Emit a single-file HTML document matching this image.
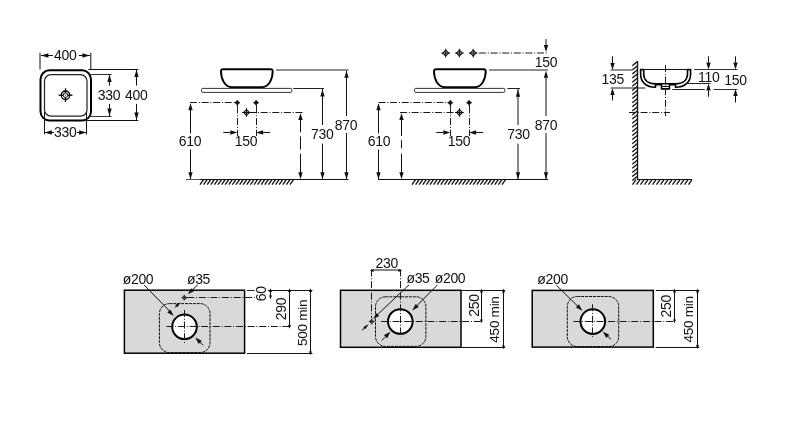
<!DOCTYPE html>
<html><head><meta charset="utf-8"><style>
html,body{margin:0;padding:0;background:#fff;}
svg{display:block;}
text{font-family:"Liberation Sans",sans-serif;letter-spacing:-0.3px;}
svg{will-change:transform;}
</style></head><body>
<svg width="800" height="423" viewBox="0 0 800 423">
<rect width="800" height="423" fill="#fff"/>
<rect x="40.5" y="70.3" width="50.5" height="50.2" rx="9" fill="none" stroke="#000" stroke-width="2"/>
<rect x="44.5" y="74.6" width="42.5" height="41.6" rx="6.5" fill="none" stroke="#222" stroke-width="1.2"/>
<circle cx="65.5" cy="95.2" r="4.2" fill="none" stroke="#000" stroke-width="1.3"/>
<circle cx="65.5" cy="95.2" r="2.3" fill="none" stroke="#000" stroke-width="0.9"/>
<line x1="65.5" y1="88.3" x2="65.5" y2="93" stroke="#000" stroke-width="1.3" stroke-linecap="butt"/>
<line x1="65.5" y1="97.4" x2="65.5" y2="102.1" stroke="#000" stroke-width="1.3" stroke-linecap="butt"/>
<line x1="58.6" y1="95.2" x2="63.3" y2="95.2" stroke="#000" stroke-width="1.3" stroke-linecap="butt"/>
<line x1="67.7" y1="95.2" x2="72.4" y2="95.2" stroke="#000" stroke-width="1.3" stroke-linecap="butt"/>
<line x1="64" y1="93.7" x2="67" y2="96.7" stroke="#666" stroke-width="0.6" stroke-linecap="butt"/>
<line x1="67" y1="93.7" x2="64" y2="96.7" stroke="#666" stroke-width="0.6" stroke-linecap="butt"/>
<line x1="40.0" y1="52.7" x2="40.0" y2="69.5" stroke="#111" stroke-width="1" stroke-linecap="butt"/>
<line x1="90.8" y1="52.7" x2="90.8" y2="69.5" stroke="#111" stroke-width="1" stroke-linecap="butt"/>
<line x1="41" y1="55.5" x2="53" y2="55.5" stroke="#111" stroke-width="1.0" stroke-linecap="butt"/>
<line x1="78.8" y1="55.5" x2="90" y2="55.5" stroke="#111" stroke-width="1.0" stroke-linecap="butt"/>
<polygon points="41.10,55.50 48.40,53.30 48.40,57.70" fill="#111"/>
<polygon points="89.70,55.50 82.40,53.30 82.40,57.70" fill="#111"/>
<text x="65.3" y="55.3" font-size="14" text-anchor="middle" dominant-baseline="central" fill="#111">400</text>
<line x1="88.3" y1="69.5" x2="138.3" y2="69.5" stroke="#111" stroke-width="1.0" stroke-linecap="butt"/>
<line x1="86.7" y1="120.5" x2="138.3" y2="120.5" stroke="#111" stroke-width="1.0" stroke-linecap="butt"/>
<line x1="88" y1="74.5" x2="111.5" y2="74.5" stroke="#333" stroke-width="1" stroke-linecap="butt"/>
<line x1="88" y1="116.5" x2="111.5" y2="116.5" stroke="#333" stroke-width="1" stroke-linecap="butt"/>
<line x1="109.5" y1="75" x2="109.5" y2="85.6" stroke="#111" stroke-width="1.0" stroke-linecap="butt"/>
<line x1="109.5" y1="103.9" x2="109.5" y2="116" stroke="#111" stroke-width="1.0" stroke-linecap="butt"/>
<polygon points="109.50,74.60 107.30,82.10 111.70,82.10" fill="#111"/>
<polygon points="109.50,116.00 107.30,108.50 111.70,108.50" fill="#111"/>
<text x="109" y="95" font-size="14" text-anchor="middle" dominant-baseline="central" fill="#111">330</text>
<line x1="136.5" y1="70" x2="136.5" y2="85.6" stroke="#111" stroke-width="1.0" stroke-linecap="butt"/>
<line x1="136.5" y1="103.9" x2="136.5" y2="119.9" stroke="#111" stroke-width="1.0" stroke-linecap="butt"/>
<polygon points="136.50,69.60 134.30,77.10 138.70,77.10" fill="#111"/>
<polygon points="136.50,120.00 134.30,112.50 138.70,112.50" fill="#111"/>
<text x="136.2" y="95" font-size="14" text-anchor="middle" dominant-baseline="central" fill="#111">400</text>
<line x1="44.5" y1="112" x2="44.5" y2="134.4" stroke="#111" stroke-width="1.0" stroke-linecap="butt"/>
<line x1="86.5" y1="112" x2="86.5" y2="134.4" stroke="#111" stroke-width="1.0" stroke-linecap="butt"/>
<line x1="44.5" y1="132.5" x2="54" y2="132.5" stroke="#111" stroke-width="1.0" stroke-linecap="butt"/>
<line x1="77" y1="132.5" x2="86.4" y2="132.5" stroke="#111" stroke-width="1.0" stroke-linecap="butt"/>
<polygon points="44.50,132.50 51.80,130.30 51.80,134.70" fill="#111"/>
<polygon points="86.40,132.50 79.10,130.30 79.10,134.70" fill="#111"/>
<text x="65.2" y="132.3" font-size="14" text-anchor="middle" dominant-baseline="central" fill="#111">330</text>
<path d="M223,69.3 L270.7,69.3 Q272.7,69.3 272.7,71.3 C272.7,79.3 268.7,87.2 261.7,87.2 L232,87.2 C225,87.2 221,79.3 221,71.3 Q221,69.3 223,69.3Z" stroke="#000" stroke-width="1.9" fill="#fff" />
<rect x="201.6" y="88.4" width="90.2" height="4" rx="1" fill="#fff" stroke="#333" stroke-width="1"/>
<path d="M237.3,100.0 L238.35000000000002,101.65 L240.0,102.7 L238.35000000000002,103.75 L237.3,105.4 L236.25,103.75 L234.60000000000002,102.7 L236.25,101.65 Z" fill="#111" stroke="#111" stroke-width="0.6" stroke-linejoin="round"/>
<path d="M237.3,100.9 L239.10000000000002,102.7 L237.3,104.5 L235.5,102.7Z" fill="#111"/>
<path d="M256.1,100.0 L257.15000000000003,101.65 L258.8,102.7 L257.15000000000003,103.75 L256.1,105.4 L255.05,103.75 L253.40000000000003,102.7 L255.05,101.65 Z" fill="#111" stroke="#111" stroke-width="0.6" stroke-linejoin="round"/>
<path d="M256.1,100.9 L257.90000000000003,102.7 L256.1,104.5 L254.3,102.7Z" fill="#111"/>
<path d="M246.5,109.6 L249.4,112.5 L246.5,115.4 L243.6,112.5Z" fill="none" stroke="#111" stroke-width="1.1"/>
<line x1="246.5" y1="108.2" x2="246.5" y2="116.8" stroke="#111" stroke-width="1.0" stroke-linecap="butt"/>
<line x1="242.2" y1="112.5" x2="250.8" y2="112.5" stroke="#111" stroke-width="1.0" stroke-linecap="butt"/>
<line x1="237.5" y1="105" x2="237.5" y2="113.5" stroke="#222" stroke-width="1" stroke-linecap="butt"/>
<line x1="237.5" y1="113.5" x2="237.5" y2="136" stroke="#1a1a1a" stroke-width="1" stroke-linecap="butt" stroke-dasharray="7 1.8 1 1.8" stroke-dashoffset="7"/>
<line x1="256.5" y1="105" x2="256.5" y2="113.5" stroke="#222" stroke-width="1" stroke-linecap="butt"/>
<line x1="256.5" y1="113.5" x2="256.5" y2="136" stroke="#1a1a1a" stroke-width="1" stroke-linecap="butt" stroke-dasharray="7 1.8 1 1.8" stroke-dashoffset="7"/>
<line x1="223.3" y1="132.5" x2="230.3" y2="132.5" stroke="#111" stroke-width="1.0" stroke-linecap="butt"/>
<polygon points="237.30,132.50 230.30,130.30 230.30,134.70" fill="#111"/>
<line x1="263.1" y1="132.5" x2="270.1" y2="132.5" stroke="#111" stroke-width="1.0" stroke-linecap="butt"/>
<polygon points="256.10,132.50 263.10,130.30 263.10,134.70" fill="#111"/>
<text x="246.0" y="141.3" font-size="14" text-anchor="middle" dominant-baseline="central" fill="#111">150</text>
<line x1="190" y1="102.5" x2="235" y2="102.5" stroke="#1a1a1a" stroke-width="1.0" stroke-linecap="butt" stroke-dasharray="7 1.8 1 1.8" stroke-dashoffset="0"/>
<line x1="190.5" y1="104" x2="190.5" y2="133.5" stroke="#111" stroke-width="1.0" stroke-linecap="butt"/>
<line x1="190.5" y1="149.5" x2="190.5" y2="179" stroke="#111" stroke-width="1.0" stroke-linecap="butt"/>
<polygon points="190.50,103.20 188.30,110.20 192.70,110.20" fill="#111"/>
<polygon points="190.50,179.30 188.30,172.30 192.70,172.30" fill="#111"/>
<text x="190" y="141" font-size="14" text-anchor="middle" dominant-baseline="central" fill="#111">610</text>
<line x1="249" y1="112.5" x2="256.1" y2="112.5" stroke="#111" stroke-width="1.1" stroke-linecap="butt"/>
<line x1="256.1" y1="112.5" x2="303" y2="112.5" stroke="#1a1a1a" stroke-width="1.0" stroke-linecap="butt" stroke-dasharray="7 1.8 1 1.8" stroke-dashoffset="7"/>
<line x1="300.5" y1="118" x2="300.5" y2="132.3" stroke="#111" stroke-width="1.0" stroke-linecap="butt"/>
<line x1="300.5" y1="136.4" x2="300.5" y2="149.6" stroke="#111" stroke-width="1.0" stroke-linecap="butt"/>
<line x1="300.5" y1="153.7" x2="300.5" y2="175" stroke="#111" stroke-width="1.0" stroke-linecap="butt"/>
<polygon points="300.50,113.00 298.30,120.00 302.70,120.00" fill="#111"/>
<polygon points="300.50,179.30 298.30,172.30 302.70,172.30" fill="#111"/>
<line x1="186" y1="179.5" x2="200" y2="179.5" stroke="#555" stroke-width="1" stroke-linecap="butt"/>
<line x1="200" y1="179.5" x2="294" y2="179.5" stroke="#111" stroke-width="1.2" stroke-linecap="butt"/>
<line x1="200" y1="184.7" x2="203.5" y2="179.7" stroke="#111" stroke-width="1.35" stroke-linecap="butt"/>
<line x1="203.6" y1="184.7" x2="207.1" y2="179.7" stroke="#111" stroke-width="1.35" stroke-linecap="butt"/>
<line x1="207.2" y1="184.7" x2="210.7" y2="179.7" stroke="#111" stroke-width="1.35" stroke-linecap="butt"/>
<line x1="210.79999999999998" y1="184.7" x2="214.29999999999998" y2="179.7" stroke="#111" stroke-width="1.35" stroke-linecap="butt"/>
<line x1="214.39999999999998" y1="184.7" x2="217.89999999999998" y2="179.7" stroke="#111" stroke-width="1.35" stroke-linecap="butt"/>
<line x1="217.99999999999997" y1="184.7" x2="221.49999999999997" y2="179.7" stroke="#111" stroke-width="1.35" stroke-linecap="butt"/>
<line x1="221.59999999999997" y1="184.7" x2="225.09999999999997" y2="179.7" stroke="#111" stroke-width="1.35" stroke-linecap="butt"/>
<line x1="225.19999999999996" y1="184.7" x2="228.69999999999996" y2="179.7" stroke="#111" stroke-width="1.35" stroke-linecap="butt"/>
<line x1="228.79999999999995" y1="184.7" x2="232.29999999999995" y2="179.7" stroke="#111" stroke-width="1.35" stroke-linecap="butt"/>
<line x1="232.39999999999995" y1="184.7" x2="235.89999999999995" y2="179.7" stroke="#111" stroke-width="1.35" stroke-linecap="butt"/>
<line x1="235.99999999999994" y1="184.7" x2="239.49999999999994" y2="179.7" stroke="#111" stroke-width="1.35" stroke-linecap="butt"/>
<line x1="239.59999999999994" y1="184.7" x2="243.09999999999994" y2="179.7" stroke="#111" stroke-width="1.35" stroke-linecap="butt"/>
<line x1="243.19999999999993" y1="184.7" x2="246.69999999999993" y2="179.7" stroke="#111" stroke-width="1.35" stroke-linecap="butt"/>
<line x1="246.79999999999993" y1="184.7" x2="250.29999999999993" y2="179.7" stroke="#111" stroke-width="1.35" stroke-linecap="butt"/>
<line x1="250.39999999999992" y1="184.7" x2="253.89999999999992" y2="179.7" stroke="#111" stroke-width="1.35" stroke-linecap="butt"/>
<line x1="253.99999999999991" y1="184.7" x2="257.4999999999999" y2="179.7" stroke="#111" stroke-width="1.35" stroke-linecap="butt"/>
<line x1="257.5999999999999" y1="184.7" x2="261.0999999999999" y2="179.7" stroke="#111" stroke-width="1.35" stroke-linecap="butt"/>
<line x1="261.19999999999993" y1="184.7" x2="264.69999999999993" y2="179.7" stroke="#111" stroke-width="1.35" stroke-linecap="butt"/>
<line x1="264.79999999999995" y1="184.7" x2="268.29999999999995" y2="179.7" stroke="#111" stroke-width="1.35" stroke-linecap="butt"/>
<line x1="268.4" y1="184.7" x2="271.9" y2="179.7" stroke="#111" stroke-width="1.35" stroke-linecap="butt"/>
<line x1="272.0" y1="184.7" x2="275.5" y2="179.7" stroke="#111" stroke-width="1.35" stroke-linecap="butt"/>
<line x1="275.6" y1="184.7" x2="279.1" y2="179.7" stroke="#111" stroke-width="1.35" stroke-linecap="butt"/>
<line x1="279.20000000000005" y1="184.7" x2="282.70000000000005" y2="179.7" stroke="#111" stroke-width="1.35" stroke-linecap="butt"/>
<line x1="282.80000000000007" y1="184.7" x2="286.30000000000007" y2="179.7" stroke="#111" stroke-width="1.35" stroke-linecap="butt"/>
<line x1="286.4000000000001" y1="184.7" x2="289.9000000000001" y2="179.7" stroke="#111" stroke-width="1.35" stroke-linecap="butt"/>
<line x1="290.0000000000001" y1="184.7" x2="293.5000000000001" y2="179.7" stroke="#111" stroke-width="1.35" stroke-linecap="butt"/>
<line x1="290" y1="179.5" x2="348.5" y2="179.5" stroke="#111" stroke-width="1.2" stroke-linecap="butt"/>
<line x1="293.2" y1="88.5" x2="324" y2="88.5" stroke="#222" stroke-width="1" stroke-linecap="butt"/>
<line x1="322.5" y1="89" x2="322.5" y2="125" stroke="#111" stroke-width="1.0" stroke-linecap="butt"/>
<line x1="322.5" y1="143.6" x2="322.5" y2="179" stroke="#111" stroke-width="1.0" stroke-linecap="butt"/>
<polygon points="322.50,89.60 320.30,96.60 324.70,96.60" fill="#111"/>
<polygon points="322.50,179.30 320.30,172.30 324.70,172.30" fill="#111"/>
<text x="322.2" y="134" font-size="14" text-anchor="middle" dominant-baseline="central" fill="#111">730</text>
<line x1="276" y1="70" x2="348.5" y2="70" stroke="#222" stroke-width="1" stroke-linecap="butt"/>
<line x1="346.5" y1="71" x2="346.5" y2="116" stroke="#111" stroke-width="1.0" stroke-linecap="butt"/>
<line x1="346.5" y1="133" x2="346.5" y2="179" stroke="#111" stroke-width="1.0" stroke-linecap="butt"/>
<polygon points="346.50,70.80 344.30,77.80 348.70,77.80" fill="#111"/>
<polygon points="346.50,179.30 344.30,172.30 348.70,172.30" fill="#111"/>
<text x="346" y="124.5" font-size="14" text-anchor="middle" dominant-baseline="central" fill="#111">870</text>
<path d="M436,69.3 L483.7,69.3 Q485.7,69.3 485.7,71.3 C485.7,79.3 481.7,87.2 474.7,87.2 L445,87.2 C438,87.2 434,79.3 434,71.3 Q434,69.3 436,69.3Z" stroke="#000" stroke-width="1.9" fill="#fff" />
<rect x="414.6" y="88.4" width="90.2" height="4" rx="1" fill="#fff" stroke="#333" stroke-width="1"/>
<path d="M450.3,100.0 L451.35,101.65 L453.0,102.7 L451.35,103.75 L450.3,105.4 L449.25,103.75 L447.6,102.7 L449.25,101.65 Z" fill="#111" stroke="#111" stroke-width="0.6" stroke-linejoin="round"/>
<path d="M450.3,100.9 L452.1,102.7 L450.3,104.5 L448.5,102.7Z" fill="#111"/>
<path d="M469.1,100.0 L470.15000000000003,101.65 L471.8,102.7 L470.15000000000003,103.75 L469.1,105.4 L468.05,103.75 L466.40000000000003,102.7 L468.05,101.65 Z" fill="#111" stroke="#111" stroke-width="0.6" stroke-linejoin="round"/>
<path d="M469.1,100.9 L470.90000000000003,102.7 L469.1,104.5 L467.3,102.7Z" fill="#111"/>
<path d="M459.5,109.6 L462.4,112.5 L459.5,115.4 L456.6,112.5Z" fill="none" stroke="#111" stroke-width="1.1"/>
<line x1="459.5" y1="108.2" x2="459.5" y2="116.8" stroke="#111" stroke-width="1.0" stroke-linecap="butt"/>
<line x1="455.2" y1="112.5" x2="463.8" y2="112.5" stroke="#111" stroke-width="1.0" stroke-linecap="butt"/>
<line x1="450.5" y1="105" x2="450.5" y2="113.5" stroke="#222" stroke-width="1" stroke-linecap="butt"/>
<line x1="450.5" y1="113.5" x2="450.5" y2="136" stroke="#1a1a1a" stroke-width="1" stroke-linecap="butt" stroke-dasharray="7 1.8 1 1.8" stroke-dashoffset="7"/>
<line x1="469.5" y1="105" x2="469.5" y2="113.5" stroke="#222" stroke-width="1" stroke-linecap="butt"/>
<line x1="469.5" y1="113.5" x2="469.5" y2="136" stroke="#1a1a1a" stroke-width="1" stroke-linecap="butt" stroke-dasharray="7 1.8 1 1.8" stroke-dashoffset="7"/>
<line x1="436.3" y1="132.5" x2="443.3" y2="132.5" stroke="#111" stroke-width="1.0" stroke-linecap="butt"/>
<polygon points="450.30,132.50 443.30,130.30 443.30,134.70" fill="#111"/>
<line x1="476.1" y1="132.5" x2="483.1" y2="132.5" stroke="#111" stroke-width="1.0" stroke-linecap="butt"/>
<polygon points="469.10,132.50 476.10,130.30 476.10,134.70" fill="#111"/>
<text x="459.0" y="141.3" font-size="14" text-anchor="middle" dominant-baseline="central" fill="#111">150</text>
<line x1="378.5" y1="102.5" x2="448" y2="102.5" stroke="#1a1a1a" stroke-width="1.0" stroke-linecap="butt" stroke-dasharray="7 1.8 1 1.8" stroke-dashoffset="0"/>
<line x1="378.5" y1="104" x2="378.5" y2="133.5" stroke="#111" stroke-width="1.0" stroke-linecap="butt"/>
<line x1="378.5" y1="149.5" x2="378.5" y2="179" stroke="#111" stroke-width="1.0" stroke-linecap="butt"/>
<polygon points="378.50,103.20 376.30,110.20 380.70,110.20" fill="#111"/>
<polygon points="378.50,179.30 376.30,172.30 380.70,172.30" fill="#111"/>
<text x="379" y="141" font-size="14" text-anchor="middle" dominant-baseline="central" fill="#111">610</text>
<line x1="400.1" y1="112.5" x2="456" y2="112.5" stroke="#1a1a1a" stroke-width="1.0" stroke-linecap="butt" stroke-dasharray="7 1.8 1 1.8" stroke-dashoffset="0"/>
<line x1="401.5" y1="118" x2="401.5" y2="136" stroke="#111" stroke-width="1.0" stroke-linecap="butt"/>
<line x1="401.5" y1="140.2" x2="401.5" y2="148.4" stroke="#111" stroke-width="1.0" stroke-linecap="butt"/>
<line x1="401.5" y1="153.6" x2="401.5" y2="175" stroke="#111" stroke-width="1.0" stroke-linecap="butt"/>
<polygon points="401.50,113.00 399.30,120.00 403.70,120.00" fill="#111"/>
<polygon points="401.50,179.30 399.30,172.30 403.70,172.30" fill="#111"/>
<line x1="378" y1="179.5" x2="412" y2="179.5" stroke="#111" stroke-width="1.2" stroke-linecap="butt"/>
<line x1="412" y1="179.5" x2="503" y2="179.5" stroke="#111" stroke-width="1.2" stroke-linecap="butt"/>
<line x1="412" y1="184.7" x2="415.5" y2="179.7" stroke="#111" stroke-width="1.35" stroke-linecap="butt"/>
<line x1="415.6" y1="184.7" x2="419.1" y2="179.7" stroke="#111" stroke-width="1.35" stroke-linecap="butt"/>
<line x1="419.20000000000005" y1="184.7" x2="422.70000000000005" y2="179.7" stroke="#111" stroke-width="1.35" stroke-linecap="butt"/>
<line x1="422.80000000000007" y1="184.7" x2="426.30000000000007" y2="179.7" stroke="#111" stroke-width="1.35" stroke-linecap="butt"/>
<line x1="426.4000000000001" y1="184.7" x2="429.9000000000001" y2="179.7" stroke="#111" stroke-width="1.35" stroke-linecap="butt"/>
<line x1="430.0000000000001" y1="184.7" x2="433.5000000000001" y2="179.7" stroke="#111" stroke-width="1.35" stroke-linecap="butt"/>
<line x1="433.60000000000014" y1="184.7" x2="437.10000000000014" y2="179.7" stroke="#111" stroke-width="1.35" stroke-linecap="butt"/>
<line x1="437.20000000000016" y1="184.7" x2="440.70000000000016" y2="179.7" stroke="#111" stroke-width="1.35" stroke-linecap="butt"/>
<line x1="440.8000000000002" y1="184.7" x2="444.3000000000002" y2="179.7" stroke="#111" stroke-width="1.35" stroke-linecap="butt"/>
<line x1="444.4000000000002" y1="184.7" x2="447.9000000000002" y2="179.7" stroke="#111" stroke-width="1.35" stroke-linecap="butt"/>
<line x1="448.0000000000002" y1="184.7" x2="451.5000000000002" y2="179.7" stroke="#111" stroke-width="1.35" stroke-linecap="butt"/>
<line x1="451.60000000000025" y1="184.7" x2="455.10000000000025" y2="179.7" stroke="#111" stroke-width="1.35" stroke-linecap="butt"/>
<line x1="455.2000000000003" y1="184.7" x2="458.7000000000003" y2="179.7" stroke="#111" stroke-width="1.35" stroke-linecap="butt"/>
<line x1="458.8000000000003" y1="184.7" x2="462.3000000000003" y2="179.7" stroke="#111" stroke-width="1.35" stroke-linecap="butt"/>
<line x1="462.4000000000003" y1="184.7" x2="465.9000000000003" y2="179.7" stroke="#111" stroke-width="1.35" stroke-linecap="butt"/>
<line x1="466.00000000000034" y1="184.7" x2="469.50000000000034" y2="179.7" stroke="#111" stroke-width="1.35" stroke-linecap="butt"/>
<line x1="469.60000000000036" y1="184.7" x2="473.10000000000036" y2="179.7" stroke="#111" stroke-width="1.35" stroke-linecap="butt"/>
<line x1="473.2000000000004" y1="184.7" x2="476.7000000000004" y2="179.7" stroke="#111" stroke-width="1.35" stroke-linecap="butt"/>
<line x1="476.8000000000004" y1="184.7" x2="480.3000000000004" y2="179.7" stroke="#111" stroke-width="1.35" stroke-linecap="butt"/>
<line x1="480.40000000000043" y1="184.7" x2="483.90000000000043" y2="179.7" stroke="#111" stroke-width="1.35" stroke-linecap="butt"/>
<line x1="484.00000000000045" y1="184.7" x2="487.50000000000045" y2="179.7" stroke="#111" stroke-width="1.35" stroke-linecap="butt"/>
<line x1="487.6000000000005" y1="184.7" x2="491.1000000000005" y2="179.7" stroke="#111" stroke-width="1.35" stroke-linecap="butt"/>
<line x1="491.2000000000005" y1="184.7" x2="494.7000000000005" y2="179.7" stroke="#111" stroke-width="1.35" stroke-linecap="butt"/>
<line x1="494.8000000000005" y1="184.7" x2="498.3000000000005" y2="179.7" stroke="#111" stroke-width="1.35" stroke-linecap="butt"/>
<line x1="498.40000000000055" y1="184.7" x2="501.90000000000055" y2="179.7" stroke="#111" stroke-width="1.35" stroke-linecap="butt"/>
<line x1="502.00000000000057" y1="184.7" x2="505.50000000000057" y2="179.7" stroke="#111" stroke-width="1.35" stroke-linecap="butt"/>
<line x1="503" y1="179.5" x2="548" y2="179.5" stroke="#111" stroke-width="1.2" stroke-linecap="butt"/>
<path d="M445.7,50.2 L448.59999999999997,53.1 L445.7,56.0 L442.8,53.1Z" fill="none" stroke="#111" stroke-width="1.1"/>
<line x1="445.7" y1="48.800000000000004" x2="445.7" y2="57.4" stroke="#111" stroke-width="1.0" stroke-linecap="butt"/>
<line x1="441.4" y1="53.1" x2="450.0" y2="53.1" stroke="#111" stroke-width="1.0" stroke-linecap="butt"/>
<path d="M459.4,50.2 L462.29999999999995,53.1 L459.4,56.0 L456.5,53.1Z" fill="none" stroke="#111" stroke-width="1.1"/>
<line x1="459.4" y1="48.800000000000004" x2="459.4" y2="57.4" stroke="#111" stroke-width="1.0" stroke-linecap="butt"/>
<line x1="455.09999999999997" y1="53.1" x2="463.7" y2="53.1" stroke="#111" stroke-width="1.0" stroke-linecap="butt"/>
<path d="M473.2,50.2 L476.09999999999997,53.1 L473.2,56.0 L470.3,53.1Z" fill="none" stroke="#111" stroke-width="1.1"/>
<line x1="473.2" y1="48.800000000000004" x2="473.2" y2="57.4" stroke="#111" stroke-width="1.0" stroke-linecap="butt"/>
<line x1="468.9" y1="53.1" x2="477.5" y2="53.1" stroke="#111" stroke-width="1.0" stroke-linecap="butt"/>
<line x1="479" y1="53" x2="548" y2="53" stroke="#1a1a1a" stroke-width="1.0" stroke-linecap="butt" stroke-dasharray="7 1.8 1 1.8" stroke-dashoffset="0"/>
<line x1="546" y1="39" x2="546" y2="46" stroke="#111" stroke-width="1" stroke-linecap="butt"/>
<polygon points="546.00,52.00 543.80,45.00 548.20,45.00" fill="#111"/>
<text x="546" y="62" font-size="14" text-anchor="middle" dominant-baseline="central" fill="#111">150</text>
<line x1="489" y1="70" x2="547.8" y2="70" stroke="#222" stroke-width="1" stroke-linecap="butt"/>
<line x1="546" y1="76" x2="546" y2="116" stroke="#111" stroke-width="1" stroke-linecap="butt"/>
<line x1="546" y1="133" x2="546" y2="179" stroke="#111" stroke-width="1" stroke-linecap="butt"/>
<polygon points="546.00,70.80 543.80,77.80 548.20,77.80" fill="#111"/>
<polygon points="546.00,179.30 543.80,172.30 548.20,172.30" fill="#111"/>
<text x="546" y="124.5" font-size="14" text-anchor="middle" dominant-baseline="central" fill="#111">870</text>
<line x1="507.3" y1="88.5" x2="520" y2="88.5" stroke="#222" stroke-width="1" stroke-linecap="butt"/>
<line x1="518" y1="89" x2="518" y2="125" stroke="#111" stroke-width="1" stroke-linecap="butt"/>
<line x1="518" y1="143.6" x2="518" y2="179" stroke="#111" stroke-width="1" stroke-linecap="butt"/>
<polygon points="518.00,89.80 515.80,96.80 520.20,96.80" fill="#111"/>
<polygon points="518.00,179.30 515.80,172.30 520.20,172.30" fill="#111"/>
<text x="518.5" y="134" font-size="14" text-anchor="middle" dominant-baseline="central" fill="#111">730</text>
<line x1="637.5" y1="61.3" x2="637.5" y2="179.7" stroke="#111" stroke-width="1.3" stroke-linecap="butt"/>
<line x1="632.3" y1="65.8" x2="637.8" y2="61.3" stroke="#111" stroke-width="1.35" stroke-linecap="butt"/>
<line x1="632.3" y1="69.89999999999999" x2="637.8" y2="65.39999999999999" stroke="#111" stroke-width="1.35" stroke-linecap="butt"/>
<line x1="632.3" y1="73.99999999999999" x2="637.8" y2="69.49999999999999" stroke="#111" stroke-width="1.35" stroke-linecap="butt"/>
<line x1="632.3" y1="78.09999999999998" x2="637.8" y2="73.59999999999998" stroke="#111" stroke-width="1.35" stroke-linecap="butt"/>
<line x1="632.3" y1="82.19999999999997" x2="637.8" y2="77.69999999999997" stroke="#111" stroke-width="1.35" stroke-linecap="butt"/>
<line x1="632.3" y1="86.29999999999997" x2="637.8" y2="81.79999999999997" stroke="#111" stroke-width="1.35" stroke-linecap="butt"/>
<line x1="632.3" y1="90.39999999999996" x2="637.8" y2="85.89999999999996" stroke="#111" stroke-width="1.35" stroke-linecap="butt"/>
<line x1="632.3" y1="94.49999999999996" x2="637.8" y2="89.99999999999996" stroke="#111" stroke-width="1.35" stroke-linecap="butt"/>
<line x1="632.3" y1="98.59999999999995" x2="637.8" y2="94.09999999999995" stroke="#111" stroke-width="1.35" stroke-linecap="butt"/>
<line x1="632.3" y1="102.69999999999995" x2="637.8" y2="98.19999999999995" stroke="#111" stroke-width="1.35" stroke-linecap="butt"/>
<line x1="632.3" y1="106.79999999999994" x2="637.8" y2="102.29999999999994" stroke="#111" stroke-width="1.35" stroke-linecap="butt"/>
<line x1="632.3" y1="110.89999999999993" x2="637.8" y2="106.39999999999993" stroke="#111" stroke-width="1.35" stroke-linecap="butt"/>
<line x1="632.3" y1="114.99999999999993" x2="637.8" y2="110.49999999999993" stroke="#111" stroke-width="1.35" stroke-linecap="butt"/>
<line x1="632.3" y1="119.09999999999992" x2="637.8" y2="114.59999999999992" stroke="#111" stroke-width="1.35" stroke-linecap="butt"/>
<line x1="632.3" y1="123.19999999999992" x2="637.8" y2="118.69999999999992" stroke="#111" stroke-width="1.35" stroke-linecap="butt"/>
<line x1="632.3" y1="127.29999999999991" x2="637.8" y2="122.79999999999991" stroke="#111" stroke-width="1.35" stroke-linecap="butt"/>
<line x1="632.3" y1="131.39999999999992" x2="637.8" y2="126.8999999999999" stroke="#111" stroke-width="1.35" stroke-linecap="butt"/>
<line x1="632.3" y1="135.49999999999991" x2="637.8" y2="130.99999999999991" stroke="#111" stroke-width="1.35" stroke-linecap="butt"/>
<line x1="632.3" y1="139.5999999999999" x2="637.8" y2="135.0999999999999" stroke="#111" stroke-width="1.35" stroke-linecap="butt"/>
<line x1="632.3" y1="143.6999999999999" x2="637.8" y2="139.1999999999999" stroke="#111" stroke-width="1.35" stroke-linecap="butt"/>
<line x1="632.3" y1="147.7999999999999" x2="637.8" y2="143.2999999999999" stroke="#111" stroke-width="1.35" stroke-linecap="butt"/>
<line x1="632.3" y1="151.8999999999999" x2="637.8" y2="147.3999999999999" stroke="#111" stroke-width="1.35" stroke-linecap="butt"/>
<line x1="632.3" y1="155.9999999999999" x2="637.8" y2="151.4999999999999" stroke="#111" stroke-width="1.35" stroke-linecap="butt"/>
<line x1="632.3" y1="160.09999999999988" x2="637.8" y2="155.59999999999988" stroke="#111" stroke-width="1.35" stroke-linecap="butt"/>
<line x1="632.3" y1="164.19999999999987" x2="637.8" y2="159.69999999999987" stroke="#111" stroke-width="1.35" stroke-linecap="butt"/>
<line x1="632.3" y1="168.29999999999987" x2="637.8" y2="163.79999999999987" stroke="#111" stroke-width="1.35" stroke-linecap="butt"/>
<line x1="632.3" y1="172.39999999999986" x2="637.8" y2="167.89999999999986" stroke="#111" stroke-width="1.35" stroke-linecap="butt"/>
<line x1="632.3" y1="176.49999999999986" x2="637.8" y2="171.99999999999986" stroke="#111" stroke-width="1.35" stroke-linecap="butt"/>
<line x1="632.3" y1="180.59999999999985" x2="637.8" y2="176.09999999999985" stroke="#111" stroke-width="1.35" stroke-linecap="butt"/>
<line x1="637.2" y1="179.5" x2="692" y2="179.5" stroke="#111" stroke-width="1.2" stroke-linecap="butt"/>
<line x1="632.5" y1="184.7" x2="636.0" y2="179.7" stroke="#111" stroke-width="1.35" stroke-linecap="butt"/>
<line x1="636.5" y1="184.7" x2="640.0" y2="179.7" stroke="#111" stroke-width="1.35" stroke-linecap="butt"/>
<line x1="640.5" y1="184.7" x2="644.0" y2="179.7" stroke="#111" stroke-width="1.35" stroke-linecap="butt"/>
<line x1="644.5" y1="184.7" x2="648.0" y2="179.7" stroke="#111" stroke-width="1.35" stroke-linecap="butt"/>
<line x1="648.5" y1="184.7" x2="652.0" y2="179.7" stroke="#111" stroke-width="1.35" stroke-linecap="butt"/>
<line x1="652.5" y1="184.7" x2="656.0" y2="179.7" stroke="#111" stroke-width="1.35" stroke-linecap="butt"/>
<line x1="656.5" y1="184.7" x2="660.0" y2="179.7" stroke="#111" stroke-width="1.35" stroke-linecap="butt"/>
<line x1="660.5" y1="184.7" x2="664.0" y2="179.7" stroke="#111" stroke-width="1.35" stroke-linecap="butt"/>
<line x1="664.5" y1="184.7" x2="668.0" y2="179.7" stroke="#111" stroke-width="1.35" stroke-linecap="butt"/>
<line x1="668.5" y1="184.7" x2="672.0" y2="179.7" stroke="#111" stroke-width="1.35" stroke-linecap="butt"/>
<line x1="672.5" y1="184.7" x2="676.0" y2="179.7" stroke="#111" stroke-width="1.35" stroke-linecap="butt"/>
<line x1="676.5" y1="184.7" x2="680.0" y2="179.7" stroke="#111" stroke-width="1.35" stroke-linecap="butt"/>
<line x1="680.5" y1="184.7" x2="684.0" y2="179.7" stroke="#111" stroke-width="1.35" stroke-linecap="butt"/>
<line x1="684.5" y1="184.7" x2="688.0" y2="179.7" stroke="#111" stroke-width="1.35" stroke-linecap="butt"/>
<line x1="688.5" y1="184.7" x2="692.0" y2="179.7" stroke="#111" stroke-width="1.35" stroke-linecap="butt"/>
<path d="M640.6,69.6 L640.6,74 C640.6,82 646,87.3 655.5,87.3 L655.5,84.6 L661.5,84.6 L661.5,88.9 L669.5,88.9 L669.5,84.6 L675.5,84.6 L675.5,87.3 C685,87.3 690.6,82 690.6,74 L690.6,69.6 L687.5,69.6 L687.5,74 C687.5,80 683,83.8 675.5,83.8 L655.5,83.8 C648,83.8 643.7,80 643.7,74 L643.7,69.6 Z" stroke="#000" stroke-width="1.6" fill="none" stroke-linejoin="round"/>
<line x1="640.6" y1="69.5" x2="690.6" y2="69.5" stroke="#111" stroke-width="1.1" stroke-linecap="butt"/>
<line x1="661.5" y1="86.5" x2="669.5" y2="86.5" stroke="#111" stroke-width="1" stroke-linecap="butt"/>
<line x1="665.5" y1="65" x2="665.5" y2="116" stroke="#1a1a1a" stroke-width="1.0" stroke-linecap="butt" stroke-dasharray="7 1.8 1 1.8" stroke-dashoffset="0"/>
<line x1="629" y1="112.5" x2="670" y2="112.5" stroke="#1a1a1a" stroke-width="1.0" stroke-linecap="butt" stroke-dasharray="7 1.8 1 1.8" stroke-dashoffset="0"/>
<line x1="610.6" y1="70" x2="632.2" y2="70" stroke="#222" stroke-width="1" stroke-linecap="butt"/>
<line x1="610.6" y1="88" x2="645.5" y2="88" stroke="#222" stroke-width="1" stroke-linecap="butt"/>
<line x1="612.5" y1="56.3" x2="612.5" y2="63" stroke="#111" stroke-width="1.0" stroke-linecap="butt"/>
<polygon points="612.50,69.90 610.30,62.90 614.70,62.90" fill="#111"/>
<line x1="612.5" y1="95" x2="612.5" y2="100.5" stroke="#111" stroke-width="1.0" stroke-linecap="butt"/>
<polygon points="612.50,88.00 610.30,95.00 614.70,95.00" fill="#111"/>
<text x="612.8" y="79" font-size="14" text-anchor="middle" dominant-baseline="central" fill="#111">135</text>
<line x1="694.2" y1="69.5" x2="737.4" y2="69.5" stroke="#333" stroke-width="1" stroke-linecap="butt"/>
<line x1="685" y1="83.5" x2="710.5" y2="83.5" stroke="#222" stroke-width="1" stroke-linecap="butt"/>
<line x1="672.3" y1="89.5" x2="704.8" y2="89.5" stroke="#222" stroke-width="1" stroke-linecap="butt"/>
<line x1="713.6" y1="89.5" x2="737.4" y2="89.5" stroke="#333" stroke-width="1" stroke-linecap="butt"/>
<line x1="708.5" y1="56.4" x2="708.5" y2="62.6" stroke="#111" stroke-width="1.0" stroke-linecap="butt"/>
<polygon points="708.50,69.60 706.30,62.60 710.70,62.60" fill="#111"/>
<line x1="708.5" y1="90.6" x2="708.5" y2="96.8" stroke="#111" stroke-width="1.0" stroke-linecap="butt"/>
<polygon points="708.50,83.60 706.30,90.60 710.70,90.60" fill="#111"/>
<line x1="735.5" y1="56.4" x2="735.5" y2="62.6" stroke="#111" stroke-width="1.0" stroke-linecap="butt"/>
<polygon points="735.50,69.60 733.30,62.60 737.70,62.60" fill="#111"/>
<line x1="735.5" y1="96" x2="735.5" y2="102.5" stroke="#111" stroke-width="1.0" stroke-linecap="butt"/>
<polygon points="735.50,89.00 733.30,96.00 737.70,96.00" fill="#111"/>
<text x="708.7" y="77" font-size="14" text-anchor="middle" dominant-baseline="central" fill="#111">110</text>
<text x="735.5" y="79.8" font-size="14" text-anchor="middle" dominant-baseline="central" fill="#111">150</text>
<rect x="124.4" y="290.2" width="120.19999999999999" height="63.0" fill="#d9d9d9" stroke="#000" stroke-width="1.5"/>
<rect x="159.4" y="303.6" width="50.599999999999994" height="49.0" rx="10" fill="none" stroke="#111" stroke-width="1" stroke-dasharray="3 0.9"/>
<circle cx="184.5" cy="326.8" r="12.3" fill="#fff" stroke="#000" stroke-width="2"/>
<line x1="166.4" y1="326.5" x2="289.5" y2="326.5" stroke="#1a1a1a" stroke-width="1.0" stroke-linecap="butt" stroke-dasharray="7 1.8 1 1.8" stroke-dashoffset="0"/>
<line x1="184.5" y1="310" x2="184.5" y2="344" stroke="#1a1a1a" stroke-width="1.0" stroke-linecap="butt" stroke-dasharray="7 1.8 1 1.8" stroke-dashoffset="0"/>
<path d="M184.3,295.5 L186.5,297.7 L184.3,299.9 L182.10000000000002,297.7Z" fill="none" stroke="#111" stroke-width="1"/>
<line x1="184.3" y1="294.9" x2="184.3" y2="300.5" stroke="#111" stroke-width="0.8" stroke-linecap="butt"/>
<line x1="181.5" y1="297.7" x2="187.10000000000002" y2="297.7" stroke="#111" stroke-width="0.8" stroke-linecap="butt"/>
<line x1="187.2" y1="297.5" x2="254.75" y2="297.5" stroke="#1a1a1a" stroke-width="1.0" stroke-linecap="butt" stroke-dasharray="7 1.8 1 1.8" stroke-dashoffset="0"/>
<text x="138" y="279" font-size="14" text-anchor="middle" dominant-baseline="central" fill="#111">ø200</text>
<text x="198.5" y="279" font-size="14" text-anchor="middle" dominant-baseline="central" fill="#111">ø35</text>
<line x1="144.1" y1="285" x2="171" y2="312.5" stroke="#111" stroke-width="1" stroke-linecap="butt"/>
<polygon points="173.80,315.90 167.29,312.51 170.41,309.39" fill="#111"/>
<line x1="197.9" y1="284.8" x2="191" y2="291" stroke="#111" stroke-width="1" stroke-linecap="butt"/>
<polygon points="187.80,294.20 191.19,288.30 193.92,291.23" fill="#111"/>
<line x1="174.8" y1="307.5" x2="177" y2="305.5" stroke="#111" stroke-width="1" stroke-linecap="butt"/>
<polygon points="180.70,302.10 177.40,307.36 175.22,305.02" fill="#111"/>
<line x1="203.2" y1="345.3" x2="199" y2="341.2" stroke="#111" stroke-width="1" stroke-linecap="butt"/>
<polygon points="195.30,337.40 201.81,340.79 198.69,343.91" fill="#111"/>
<line x1="247" y1="290.5" x2="254.75" y2="290.5" stroke="#333" stroke-width="1" stroke-linecap="butt"/>
<line x1="268" y1="290.5" x2="312.4" y2="290.5" stroke="#111" stroke-width="1" stroke-linecap="butt"/>
<line x1="247" y1="353.5" x2="312.4" y2="353.5" stroke="#111" stroke-width="1" stroke-linecap="butt"/>
<line x1="270.5" y1="289.5" x2="270.5" y2="298.5" stroke="#111" stroke-width="1" stroke-linecap="butt"/>
<polygon points="270.50,288.20 269.00,292.00 272.00,292.00" fill="#111"/>
<polygon points="270.50,299.30 269.00,295.50 272.00,295.50" fill="#111"/>
<line x1="289.5" y1="289.5" x2="289.5" y2="327.2" stroke="#111" stroke-width="1" stroke-linecap="butt"/>
<line x1="310.5" y1="289.5" x2="310.5" y2="353.4" stroke="#111" stroke-width="1" stroke-linecap="butt"/>
<polygon points="289.50,288.20 288.00,292.00 291.00,292.00" fill="#111"/>
<polygon points="289.50,328.80 288.00,325.00 291.00,325.00" fill="#111"/>
<polygon points="310.50,288.20 309.00,292.00 312.00,292.00" fill="#111"/>
<polygon points="310.50,355.20 309.00,351.40 312.00,351.40" fill="#111"/>
<text x="261.5" y="293.7" font-size="14" text-anchor="middle" dominant-baseline="central" fill="#111" transform="rotate(-90 261.5 293.7)">60</text>
<text x="281.2" y="309.1" font-size="14" text-anchor="middle" dominant-baseline="central" fill="#111" transform="rotate(-90 281.2 309.1)">290</text>
<text x="302.3" y="322.8" font-size="13.6" text-anchor="middle" dominant-baseline="central" fill="#111" transform="rotate(-90 302.3 322.8)">500 min</text>
<rect x="340.5" y="290.3" width="120.5" height="57.0" fill="#d9d9d9" stroke="#000" stroke-width="1.5"/>
<rect x="375.5" y="296.8" width="50.39999999999998" height="49.599999999999966" rx="10" fill="none" stroke="#111" stroke-width="1" stroke-dasharray="3 0.9"/>
<circle cx="400.3" cy="321.5" r="12.3" fill="#fff" stroke="#000" stroke-width="2"/>
<line x1="381" y1="321.5" x2="481.6" y2="321.5" stroke="#1a1a1a" stroke-width="1.0" stroke-linecap="butt" stroke-dasharray="7 1.8 1 1.8" stroke-dashoffset="0"/>
<line x1="400.5" y1="269.5" x2="400.5" y2="336.5" stroke="#1a1a1a" stroke-width="1.0" stroke-linecap="butt" stroke-dasharray="7 1.8 1 1.8" stroke-dashoffset="0"/>
<line x1="371.5" y1="269.5" x2="371.5" y2="318" stroke="#1a1a1a" stroke-width="1.0" stroke-linecap="butt" stroke-dasharray="7 1.8 1 1.8" stroke-dashoffset="0"/>
<path d="M371.7,319.3 L373.9,321.5 L371.7,323.7 L369.5,321.5Z" fill="none" stroke="#111" stroke-width="1"/>
<line x1="371.7" y1="318.7" x2="371.7" y2="324.3" stroke="#111" stroke-width="0.8" stroke-linecap="butt"/>
<line x1="368.9" y1="321.5" x2="374.5" y2="321.5" stroke="#111" stroke-width="0.8" stroke-linecap="butt"/>
<line x1="371.7" y1="270" x2="400.3" y2="270" stroke="#111" stroke-width="1" stroke-linecap="butt"/>
<polygon points="369.80,270.50 373.60,269.00 373.60,272.00" fill="#111"/>
<polygon points="402.20,270.50 398.40,269.00 398.40,272.00" fill="#111"/>
<text x="386.7" y="262.8" font-size="14" text-anchor="middle" dominant-baseline="central" fill="#111">230</text>
<text x="418" y="278.4" font-size="14" text-anchor="middle" dominant-baseline="central" fill="#111">ø35</text>
<text x="450" y="278.4" font-size="14" text-anchor="middle" dominant-baseline="central" fill="#111">ø200</text>
<line x1="409" y1="284.8" x2="376" y2="316" stroke="#111" stroke-width="1" stroke-linecap="butt"/>
<polygon points="373.10,318.90 376.49,313.00 379.22,315.93" fill="#111"/>
<line x1="437.5" y1="284.8" x2="415" y2="307.6" stroke="#111" stroke-width="1" stroke-linecap="butt"/>
<polygon points="412.20,310.40 415.71,303.95 418.76,307.12" fill="#111"/>
<line x1="361.8" y1="330.3" x2="366" y2="326.5" stroke="#111" stroke-width="1" stroke-linecap="butt"/>
<polygon points="368.80,324.00 365.34,329.13 363.34,326.90" fill="#111"/>
<line x1="381.6" y1="340.6" x2="386" y2="336.2" stroke="#111" stroke-width="1" stroke-linecap="butt"/>
<polygon points="390.50,331.70 387.11,338.21 383.99,335.09" fill="#111"/>
<line x1="462" y1="290.5" x2="505.2" y2="290.5" stroke="#111" stroke-width="1" stroke-linecap="butt"/>
<line x1="462" y1="347.5" x2="505.2" y2="347.5" stroke="#111" stroke-width="1" stroke-linecap="butt"/>
<line x1="481.5" y1="290.3" x2="481.5" y2="321.5" stroke="#111" stroke-width="1" stroke-linecap="butt"/>
<line x1="503.5" y1="290.3" x2="503.5" y2="347.3" stroke="#111" stroke-width="1" stroke-linecap="butt"/>
<polygon points="481.50,288.60 480.00,292.40 483.00,292.40" fill="#111"/>
<polygon points="481.50,323.20 480.00,319.40 483.00,319.40" fill="#111"/>
<polygon points="503.50,288.60 502.00,292.40 505.00,292.40" fill="#111"/>
<polygon points="503.50,349.20 502.00,345.40 505.00,345.40" fill="#111"/>
<text x="473.6" y="305.5" font-size="14" text-anchor="middle" dominant-baseline="central" fill="#111" transform="rotate(-90 473.6 305.5)">250</text>
<text x="494.7" y="319.5" font-size="13.6" text-anchor="middle" dominant-baseline="central" fill="#111" transform="rotate(-90 494.7 319.5)">450 min</text>
<rect x="532.2" y="290.4" width="121.09999999999991" height="56.700000000000045" fill="#d9d9d9" stroke="#000" stroke-width="1.5"/>
<rect x="567.3" y="296.5" width="51.40000000000009" height="50.10000000000002" rx="10" fill="none" stroke="#111" stroke-width="1" stroke-dasharray="3 0.9"/>
<circle cx="592.8" cy="321.6" r="12.3" fill="#fff" stroke="#000" stroke-width="2"/>
<line x1="573.3" y1="321.5" x2="674.7" y2="321.5" stroke="#1a1a1a" stroke-width="1.0" stroke-linecap="butt" stroke-dasharray="7 1.8 1 1.8" stroke-dashoffset="0"/>
<line x1="592.5" y1="304.2" x2="592.5" y2="338" stroke="#1a1a1a" stroke-width="1.0" stroke-linecap="butt" stroke-dasharray="7 1.8 1 1.8" stroke-dashoffset="0"/>
<text x="552.6" y="278.7" font-size="14" text-anchor="middle" dominant-baseline="central" fill="#111">ø200</text>
<line x1="556.4" y1="285.2" x2="579.5" y2="308" stroke="#111" stroke-width="1" stroke-linecap="butt"/>
<polygon points="582.40,310.70 575.84,307.42 578.89,304.25" fill="#111"/>
<line x1="611" y1="339.3" x2="606" y2="334.5" stroke="#111" stroke-width="1" stroke-linecap="butt"/>
<polygon points="602.70,331.50 609.32,334.67 606.32,337.88" fill="#111"/>
<line x1="655.7" y1="290.5" x2="699.4" y2="290.5" stroke="#111" stroke-width="1" stroke-linecap="butt"/>
<line x1="655.7" y1="347.5" x2="699.4" y2="347.5" stroke="#111" stroke-width="1" stroke-linecap="butt"/>
<line x1="674.5" y1="290.4" x2="674.5" y2="321.6" stroke="#111" stroke-width="1" stroke-linecap="butt"/>
<line x1="697.5" y1="290.4" x2="697.5" y2="347.1" stroke="#111" stroke-width="1" stroke-linecap="butt"/>
<polygon points="674.50,288.60 673.00,292.40 676.00,292.40" fill="#111"/>
<polygon points="674.50,323.30 673.00,319.50 676.00,319.50" fill="#111"/>
<polygon points="697.50,288.60 696.00,292.40 699.00,292.40" fill="#111"/>
<polygon points="697.50,348.90 696.00,345.10 699.00,345.10" fill="#111"/>
<text x="665.6" y="306.3" font-size="14" text-anchor="middle" dominant-baseline="central" fill="#111" transform="rotate(-90 665.6 306.3)">250</text>
<text x="689" y="319.3" font-size="13.6" text-anchor="middle" dominant-baseline="central" fill="#111" transform="rotate(-90 689 319.3)">450 min</text>
</svg>
</body></html>
